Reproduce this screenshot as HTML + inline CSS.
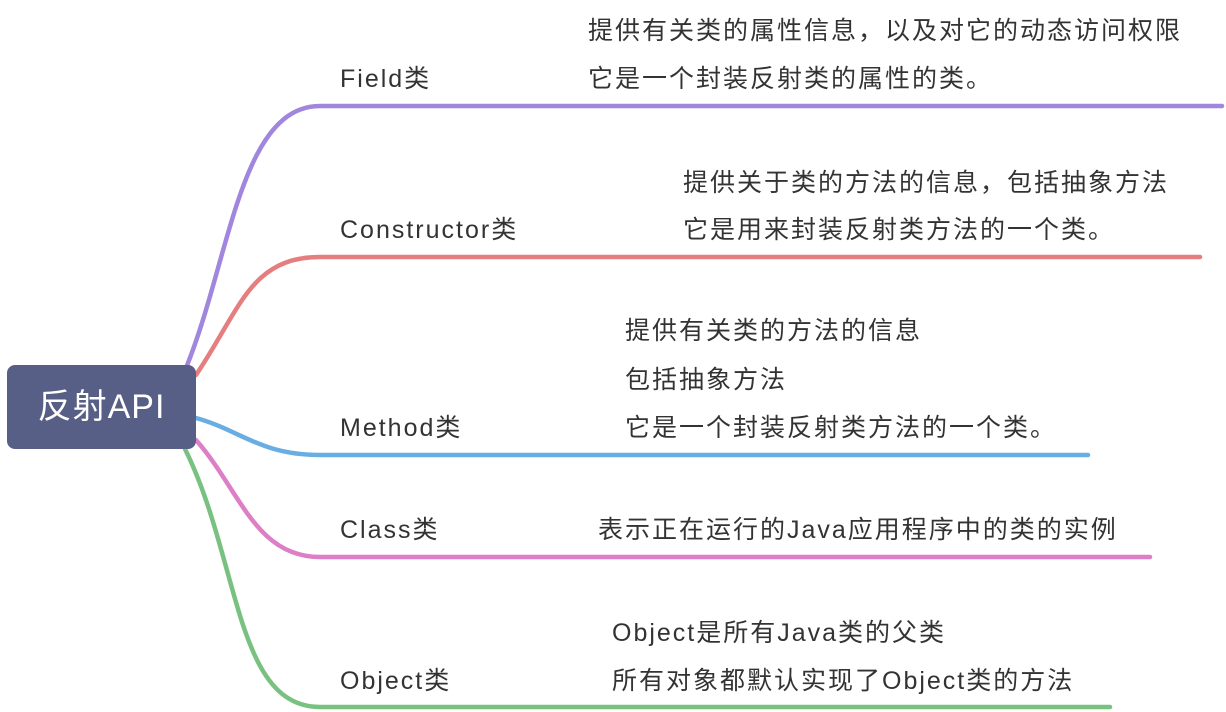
<!DOCTYPE html>
<html><head><meta charset="utf-8"><style>
body{margin:0;width:1226px;height:712px;background:#fff;position:relative;overflow:hidden;font-family:"Liberation Sans","Noto Sans CJK SC",sans-serif;color:#333}
.t{position:absolute;font-size:25px;letter-spacing:2px;line-height:26px;white-space:nowrap}
.root{position:absolute;left:7px;top:365px;width:189px;height:84px;background:#575f86;border-radius:8px;color:#fff;font-size:34px;letter-spacing:1px;line-height:84px;text-align:center}
</style></head><body>
<svg width="1226" height="712" style="position:absolute;left:0;top:0" fill="none" stroke-width="4.5" stroke-linecap="round">
<path d="M186,368 C230,260 240,106 320,106 L1222,106" stroke="#a186dd"/>
<path d="M196,375 C240,310 250,257 320,257 L1200,257" stroke="#e57f7f"/>
<path d="M196,418 C240,430 260,455 320,455 L1088,455" stroke="#68ade3"/>
<path d="M196,440 C240,490 255,557 320,557 L1150,557" stroke="#dc7fc6"/>
<path d="M185,449 C240,560 235,707 320,707 L1110,707" stroke="#79c180"/>
</svg>
<div class="root">反射API</div>
<div class="t" style="left:340px;top:66px">Field类</div>
<div class="t" style="left:588px;top:18px">提供有关类的属性信息，以及对它的动态访问权限</div>
<div class="t" style="left:588px;top:66px">它是一个封装反射类的属性的类。</div>
<div class="t" style="left:340px;top:217px">Constructor类</div>
<div class="t" style="left:683px;top:170px">提供关于类的方法的信息，包括抽象方法</div>
<div class="t" style="left:683px;top:217px">它是用来封装反射类方法的一个类。</div>
<div class="t" style="left:340px;top:415px">Method类</div>
<div class="t" style="left:625px;top:318px">提供有关类的方法的信息</div>
<div class="t" style="left:625px;top:367px">包括抽象方法</div>
<div class="t" style="left:625px;top:415px">它是一个封装反射类方法的一个类。</div>
<div class="t" style="left:340px;top:517px">Class类</div>
<div class="t" style="left:598px;top:517px">表示正在运行的Java应用程序中的类的实例</div>
<div class="t" style="left:340px;top:668px">Object类</div>
<div class="t" style="left:612px;top:620px">Object是所有Java类的父类</div>
<div class="t" style="left:612px;top:668px">所有对象都默认实现了Object类的方法</div>
</body></html>
